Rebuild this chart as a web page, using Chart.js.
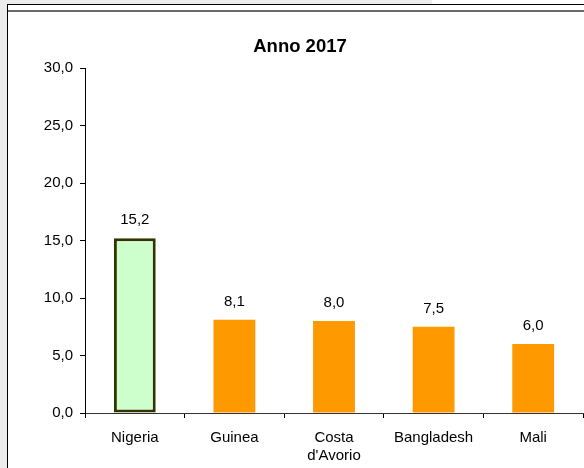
<!DOCTYPE html>
<html lang="it">
<head>
    <meta charset="UTF-8">
    <title>Anno 2017</title>
    <script src="https://cdn.jsdelivr.net/npm/chart.js@4.4.1/dist/chart.umd.min.js"></script>
    <style>
        * { margin: 0; padding: 0; box-sizing: border-box; }
        body { background: #ffffff; width: 584px; height: 468px; overflow: hidden; }
        #wrap { position: relative; width: 584px; height: 468px; }
    </style>
</head>
<body>
    <div id="wrap"><canvas id="chart" width="584" height="468"></canvas></div>

    <script>
        // Data
        const titleText = 'Anno 2017';
        const countries = ['Nigeria', 'Guinea', ['Costa', "d'Avorio"], 'Bangladesh', 'Mali'];
        const values = [15.2, 8.1, 8.0, 7.5, 6.0];
        const barColors = ['#ccffcc', '#ff9900', '#ff9900', '#ff9900', '#ff9900'];
        const barBorders = ['#333300', '#ff9900', '#ff9900', '#ff9900', '#ff9900'];
        const barBorderWidths = [3, 0, 0, 0, 0];
        const yMin = 0, yMax = 30, yStep = 5;

        const FONT = "'Liberation Sans', Arial, sans-serif";
        const fmt = v => v.toFixed(1).replace('.', ',');

        // frame around the sheet + title
        const framePlugin = {
            id: 'frame',
            beforeDraw(chart) {
                const ctx = chart.ctx;
                ctx.save();
                ctx.fillStyle = '#ffffff';
                ctx.fillRect(0, 0, chart.width, chart.height);
                ctx.fillStyle = '#ececec';
                ctx.fillRect(0, 0, 432, 4);
                ctx.fillRect(0, 0, 7, chart.height);
                ctx.fillStyle = '#000000';
                ctx.fillRect(7, 4, chart.width - 7, 1);
                ctx.fillRect(7, 4, 1, chart.height - 4);
                ctx.fillStyle = '#6a6a6a';
                ctx.fillRect(8, 10, chart.width - 8, 2);

                ctx.fillStyle = '#000000';
                ctx.font = 'bold 18.5px ' + FONT;
                ctx.textAlign = 'center';
                ctx.textBaseline = 'alphabetic';
                ctx.fillText(titleText, 300, 52);
                ctx.restore();
            }
        };

        // value labels above bars
        const valueLabels = {
            id: 'valueLabels',
            afterDatasetsDraw(chart) {
                const ctx = chart.ctx;
                const meta = chart.getDatasetMeta(0);
                ctx.save();
                ctx.fillStyle = '#000000';
                ctx.font = '15px ' + FONT;
                ctx.textAlign = 'center';
                ctx.textBaseline = 'alphabetic';
                meta.data.forEach((bar, i) => {
                    ctx.fillText(fmt(values[i]), bar.x, bar.y - 14);
                });
                ctx.restore();
            }
        };

        new Chart(document.getElementById('chart'), {
            type: 'bar',
            data: {
                labels: countries,
                datasets: [{
                    data: values,
                    backgroundColor: barColors,
                    borderColor: barBorders,
                    borderWidth: barBorderWidths,
                    borderSkipped: false,
                    barPercentage: 0.42,
                    categoryPercentage: 1.0
                }]
            },
            options: {
                responsive: false,
                animation: false,
                devicePixelRatio: 1,
                layout: { padding: { top: 68, left: 0, right: 1, bottom: 0 } },
                plugins: {
                    legend: { display: false },
                    tooltip: { enabled: false },
                    title: { display: false }
                },
                scales: {
                    x: {
                        grid: {
                            offset: true,
                            drawOnChartArea: false,
                            drawTicks: true,
                            tickLength: 5,
                            color: '#000000'
                        },
                        border: { color: '#333333', width: 1 },
                        ticks: {
                            color: '#000000',
                            font: { family: FONT, size: 15, lineHeight: 1.25 },
                            padding: 10,
                            maxRotation: 0,
                            autoSkip: false
                        },
                        afterFit(s) { s.height = 55; }
                    },
                    y: {
                        min: yMin,
                        max: yMax,
                        grid: {
                            drawOnChartArea: false,
                            drawTicks: true,
                            tickLength: 5,
                            color: '#000000'
                        },
                        border: { color: '#000000', width: 1 },
                        ticks: {
                            stepSize: yStep,
                            color: '#000000',
                            font: { family: FONT, size: 15 },
                            padding: 7,
                            callback: v => fmt(v)
                        },
                        afterFit(s) { s.width = 85; }
                    }
                }
            },
            plugins: [framePlugin, valueLabels]
        });
    </script>
</body>
</html>
